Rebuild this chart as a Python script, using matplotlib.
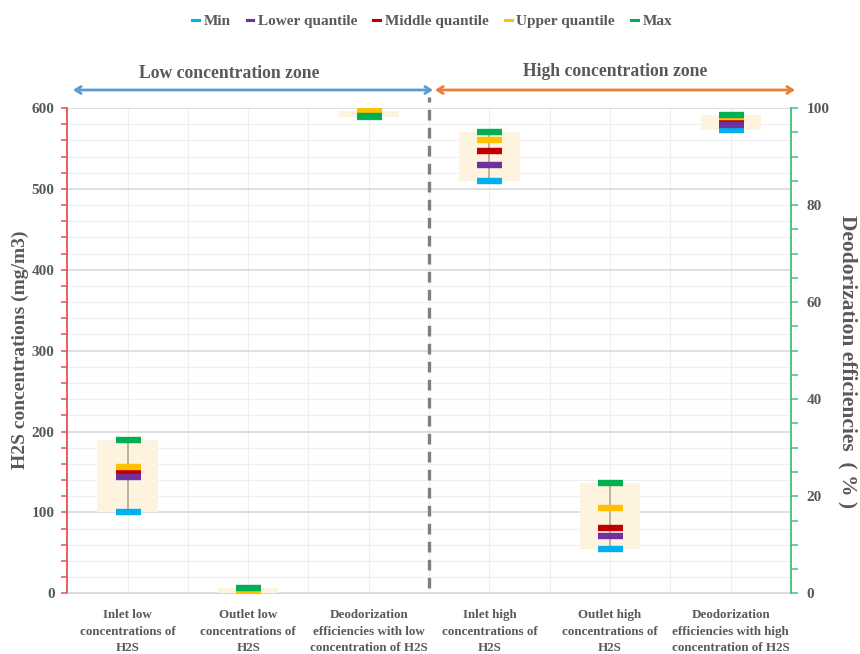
import matplotlib
matplotlib.use("Agg")
import matplotlib.pyplot as plt
from matplotlib.lines import Line2D
from matplotlib.patches import FancyArrowPatch
from matplotlib.ticker import MultipleLocator

# ---- data -------------------------------------------------------------
categories = [
    "Inlet low\nconcentrations of\nH2S",
    "Outlet low\nconcentrations of\nH2S",
    "Deodorization\nefficiencies with low\nconcentration of H2S",
    "Inlet high\nconcentrations of\nH2S",
    "Outlet high\nconcentrations of\nH2S",
    "Deodorization\nefficiencies with high\nconcentration of H2S",
]

# H2S concentrations (mg/m3), left axis
conc_pos = [0, 1, 3, 4]
conc_min = [100, 0.6, 510, 55]
conc_q1 = [144, 1.0, 530, 71]
conc_med = [149, 1.5, 547, 81]
conc_q3 = [156, 2.8, 560, 105]
conc_max = [189, 7.0, 570, 136]

# Deodorization efficiencies (%), right axis
eff_pos = [2, 5]
eff_min = [98.2, 95.4]
eff_q1 = [98.3, 96.6]
eff_med = [98.3, 97.7]
eff_q3 = [99.4, 98.1]
eff_max = [98.4, 98.6]

series_names = ["Min", "Lower quantile", "Middle quantile", "Upper quantile", "Max"]
series_colors = ["#00b0f0", "#7030a0", "#c00000", "#ffc000", "#00b050"]
series_z = [5, 6, 4, 7, 8]

TXT = "#595959"
FONT = "Liberation Serif"
plt.rcParams["font.family"] = FONT
plt.rcParams["font.weight"] = "bold"

fig = plt.figure(figsize=(8.6, 6.54), dpi=100)
ax = fig.add_axes([67 / 860, 1 - 593.3 / 654, (791 - 67) / 860, (593.3 - 108) / 654])
ax2 = ax.twinx()

ax.set_xlim(-0.502, 5.461)
ax.set_ylim(0, 600)
ax2.set_ylim(0, 100)

# grid
ax.yaxis.set_major_locator(MultipleLocator(100))
ax.yaxis.set_minor_locator(MultipleLocator(20))
ax.set_xticks(range(len(categories)))
ax.set_xticks([i + 0.5 for i in range(-1, len(categories))], minor=True)
ax.grid(True, axis="y", which="major", color="#d9d9d9", lw=1.2, zorder=0)
ax.grid(True, axis="y", which="minor", color="#efefef", lw=0.8, zorder=0)
ax.grid(True, axis="x", which="both", color="#efefef", lw=0.8, zorder=0)
ax.set_axisbelow(True)

# spines and ticks
for s in ["top", "right"]:
    ax.spines[s].set_visible(False)
ax.spines["bottom"].set_color("#d9d9d9")
ax.spines["left"].set_color("#e05555")
ax.spines["left"].set_linewidth(1.3)
ax.tick_params(axis="y", which="both", colors="#e05555", length=4, width=1.1, direction="out")
ax.tick_params(axis="y", which="major", labelcolor=TXT, labelsize=11, pad=5)
ax.tick_params(axis="x", which="both", length=0, labelcolor=TXT, labelsize=9.4, pad=11)
ax.set_xticklabels(categories, linespacing=1.55, fontweight="bold")
for lab in ax.get_yticklabels():
    lab.set_fontweight("bold")

for s in ["top", "left", "bottom"]:
    ax2.spines[s].set_visible(False)
ax2.spines["right"].set_color("#3cc27c")
ax2.spines["right"].set_linewidth(1.3)
ax2.yaxis.set_major_locator(MultipleLocator(20))
ax2.yaxis.set_minor_locator(MultipleLocator(5))
ax2.tick_params(axis="y", which="both", colors="#3cc27c", length=5, width=1.1, direction="out")
ax2.tick_params(axis="y", which="major", labelcolor=TXT, labelsize=11, pad=6)
for lab in ax2.get_yticklabels():
    lab.set_fontweight("bold")


def draw_group(a, pos, mins, q1s, meds, q3s, maxs):
    rows = [mins, q1s, meds, q3s, maxs]
    lows = [min(v) for v in zip(*rows)]
    highs = [max(v) for v in zip(*rows)]
    a.bar(pos, [h - l for l, h in zip(lows, highs)], bottom=lows, width=0.5,
          color="#fdf3df", edgecolor="none", zorder=2)
    a.vlines(pos, lows, highs, color="#aaa192", lw=1.1, zorder=3)
    for vals, c, z in zip(rows, series_colors, series_z):
        a.plot(pos, vals, ls="none", marker="_", ms=18, mew=4.6, color=c, zorder=z)


draw_group(ax, conc_pos, conc_min, conc_q1, conc_med, conc_q3, conc_max)
draw_group(ax2, eff_pos, eff_min, eff_q1, eff_med, eff_q3, eff_max)

# zone separator
ax.axvline(2.5, ymin=0.01, ymax=1.023, color="#7f7f7f", lw=2.4,
           ls=(0, (3.2, 2.2)), clip_on=False, zorder=9)

# zone arrows and titles
y_arrow = 1 - 90 / 654
for x0, x1, col in [(73, 433, "#5b9bd5"), (435, 795, "#ed7d31")]:
    fig.add_artist(FancyArrowPatch((x0 / 860, y_arrow), (x1 / 860, y_arrow),
                                   transform=fig.transFigure, arrowstyle="<->,head_length=4,head_width=2.5",
                                   color=col, lw=2, shrinkA=0, shrinkB=0))
fig.text(229 / 860, 1 - 74 / 654, "Low concentration zone", ha="center", va="center",
         fontsize=12.7, fontweight="bold", color=TXT)
fig.text(615 / 860, 1 - 71 / 654, "High concentration zone", ha="center", va="center",
         fontsize=12.7, fontweight="bold", color=TXT)

# axis titles
fig.text(20 / 860, 1 - 350 / 654, "H2S concentrations (mg/m3)", rotation=90,
         ha="center", va="center", fontsize=14, fontweight="bold", color=TXT)
fig.text(848 / 860, 1 - 362 / 654, "Deodorization efficiencies  ( % )", rotation=270,
         ha="center", va="center", fontsize=15.5, fontweight="bold", color=TXT)

# legend
handles = [Line2D([0], [0], color=c, lw=2.2) for c in series_colors]
fig.legend(handles, series_names, loc="center", bbox_to_anchor=(432 / 860, 1 - 21 / 654),
           ncol=5, frameon=False, handlelength=0.45, handletextpad=0.3, columnspacing=1.05,
           prop={"family": FONT, "weight": "bold", "size": 11}, labelcolor=TXT)

fig.savefig("out.png", dpi=100)
